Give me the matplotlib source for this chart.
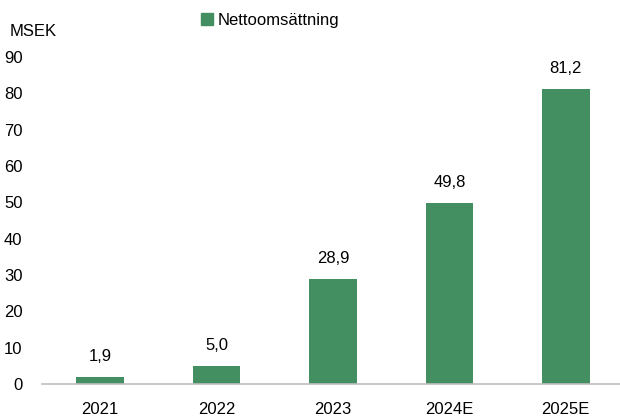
import matplotlib
matplotlib.use('Agg')
import matplotlib.pyplot as plt
from matplotlib.patches import Patch

years = ['2021', '2022', '2023', '2024E', '2025E']
sales = [1.9, 5.0, 28.9, 49.8, 81.2]
labels = ['1,9', '5,0', '28,9', '49,8', '81,2']

green = '#438F62'
plt.rcParams['font.family'] = ['Liberation Sans Narrow', 'Liberation Sans', 'DejaVu Sans']

fig = plt.figure(figsize=(6.2, 4.17), dpi=100)
ax = fig.add_axes([42 / 620, 33 / 417, 582 / 620, 327 / 417])

x = range(len(years))
ax.bar(x, sales, width=0.41, color=green)
for i, (v, lab) in enumerate(zip(sales, labels)):
    ax.annotate(lab, (i, v), xytext=(0, 15), textcoords='offset points',
                ha='center', va='center', fontsize=12)

ax.set_xlim(-0.5, len(years) - 0.5)
ax.set_ylim(0, 90)
ax.set_yticks(range(0, 91, 10))
ax.set_xticks(list(x))
ax.set_xticklabels(years)
ax.tick_params(axis='both', length=0, labelsize=12)
ax.tick_params(axis='y', pad=14)
ax.tick_params(axis='x', pad=13)
for s in ['top', 'right', 'left']:
    ax.spines[s].set_visible(False)
ax.spines['bottom'].set_color('#BFBFBF')
ax.spines['bottom'].set_linewidth(1.2)

fig.text(10 / 620, 1 - 31 / 417, 'MSEK', fontsize=12, va='center', ha='left')
fig.legend(handles=[Patch(color=green, label='Nettoomsättning')],
           loc='center', bbox_to_anchor=(270 / 620, 1 - 20 / 417), frameon=False,
           fontsize=12, handlelength=0.7, handleheight=0.7, handletextpad=0.3)

fig.savefig('out.png', dpi=100)
